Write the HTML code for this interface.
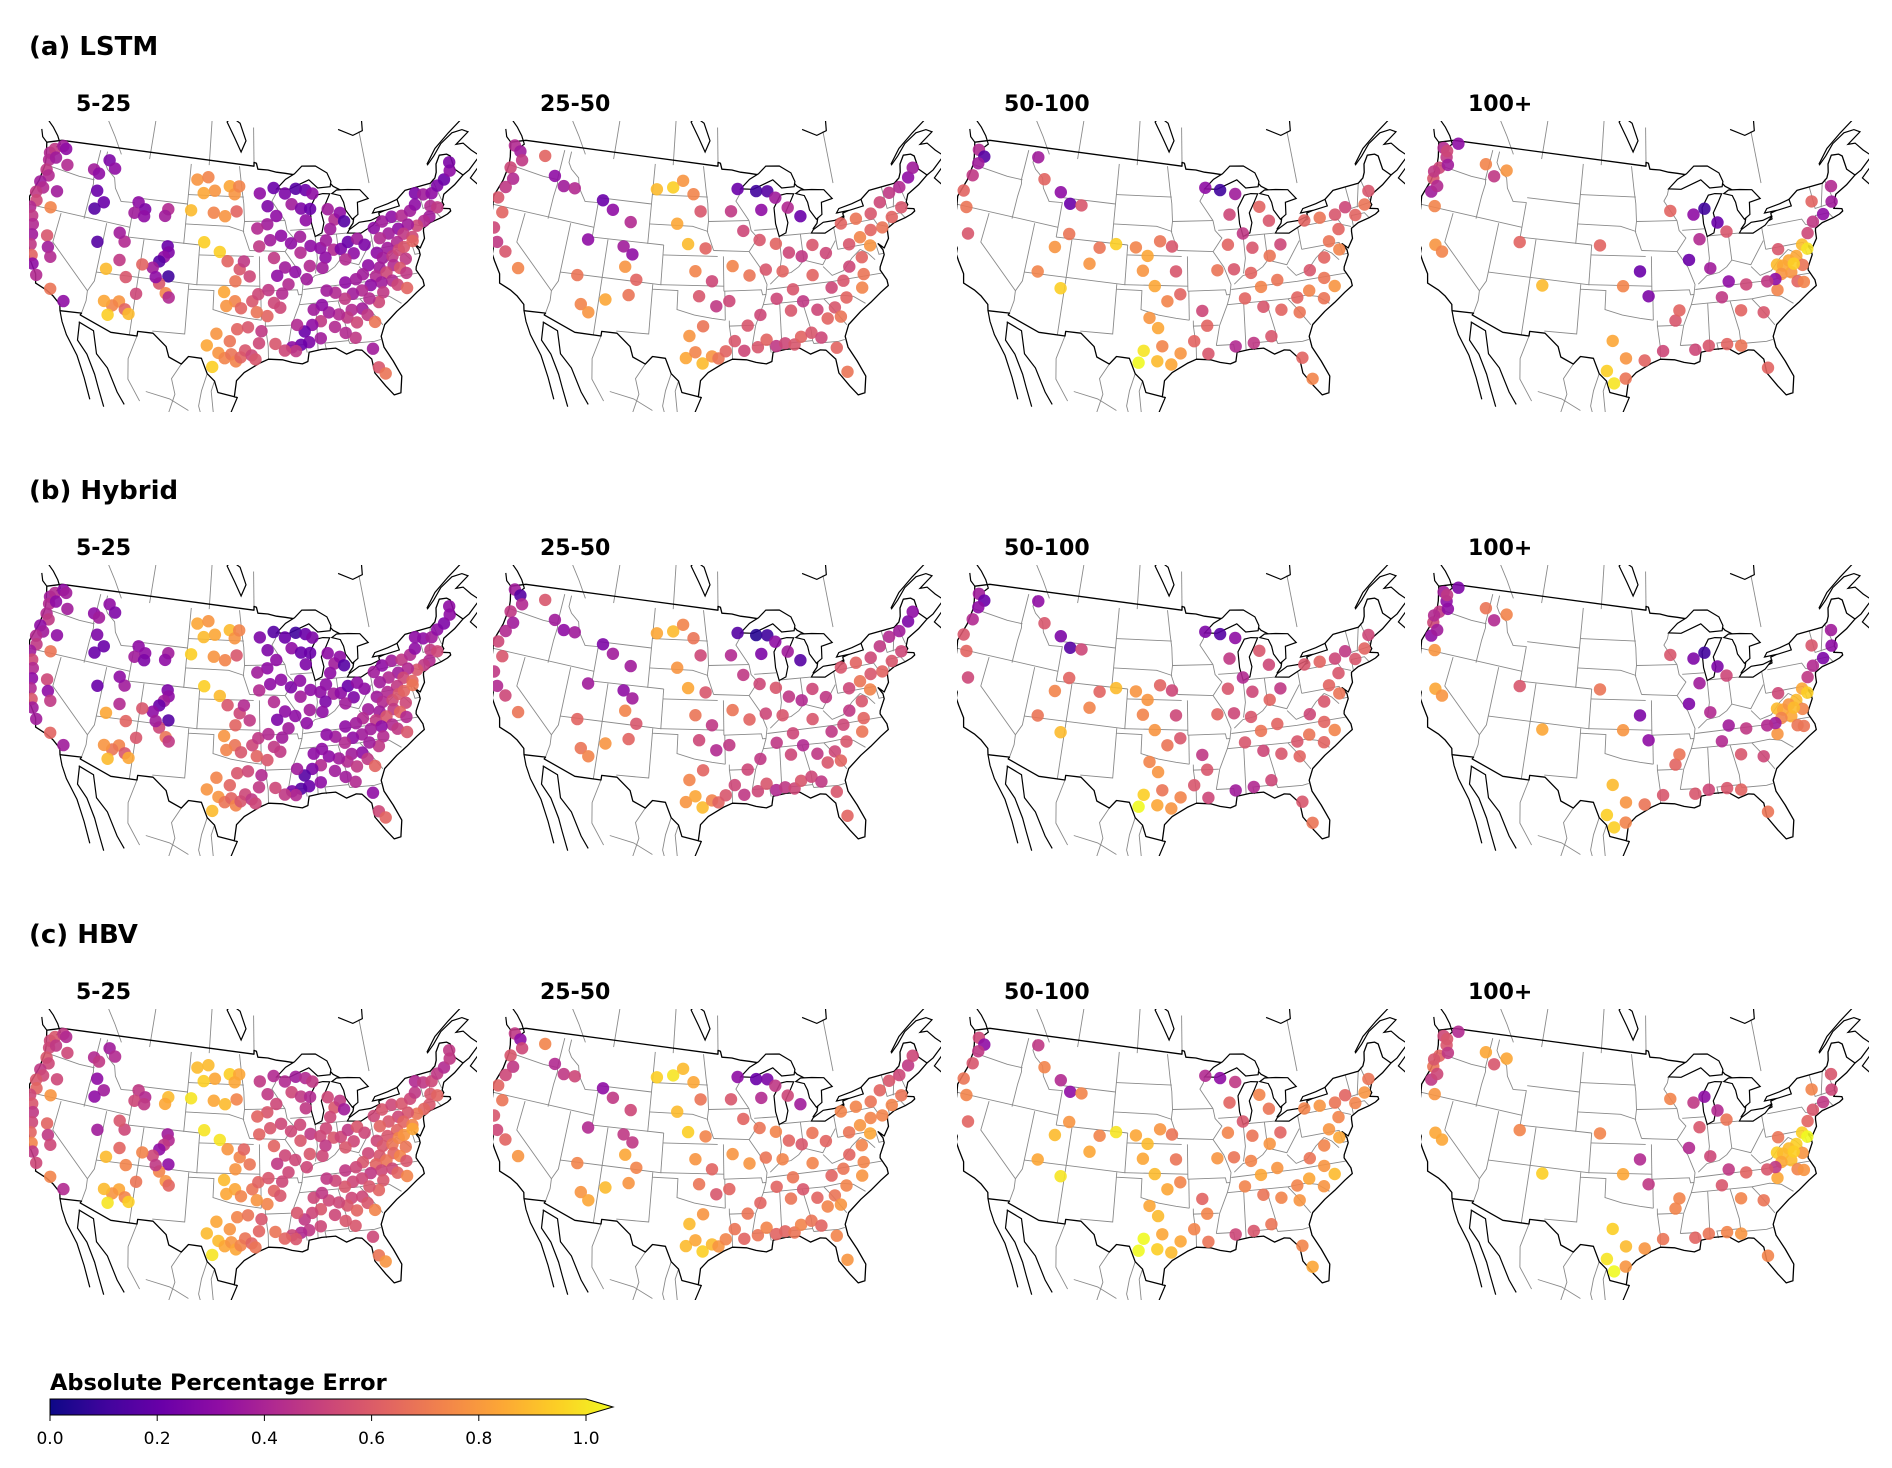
<!DOCTYPE html>
<html><head><meta charset="utf-8">
<style>
html,body{margin:0;padding:0;background:#fff;}
svg text{font-family:"DejaVu Sans","Liberation Sans",sans-serif;}
</style></head>
<body>
<svg id="fig" xmlns="http://www.w3.org/2000/svg" width="1892" height="1463" viewBox="0 0 1892 1463">
<defs>
<linearGradient id="plasma" x1="0" x2="1" y1="0" y2="0">
<stop offset="0" stop-color="#0d0887"/><stop offset="0.1" stop-color="#41049d"/><stop offset="0.2" stop-color="#6a00a8"/><stop offset="0.3" stop-color="#8f0da4"/><stop offset="0.4" stop-color="#b12a90"/><stop offset="0.5" stop-color="#cc4778"/><stop offset="0.6" stop-color="#e16462"/><stop offset="0.7" stop-color="#f2844b"/><stop offset="0.8" stop-color="#fca636"/><stop offset="0.9" stop-color="#fcce25"/><stop offset="1" stop-color="#f0f921"/>
</linearGradient>
<clipPath id="mapclip"><rect x="0" y="0" width="448" height="291"/></clipPath>
<symbol id="basemap" viewBox="0 0 448 291" width="448" height="291"><g id="basemap-g"></g></symbol>
</defs>
<g id="panels"></g>
<g>
<text x="50" y="1390" font-size="22.5" font-weight="bold">Absolute Percentage Error</text>
<path d="M50,1399 L586,1399 L613,1407 L586,1415 L50,1415 Z" fill="url(#plasma)" stroke="#000" stroke-width="1"/>
<g id="cbticks"></g>
</g>
</svg>
<script>
// ---------- data ----------
const rowTitles = ["(a) LSTM","(b) Hybrid","(c) HBV"];
const colTitles = ["5-25","25-50","50-100","100+"];
const cbTicks = [0.0,0.2,0.4,0.6,0.8,1.0];

const sites1 = [
[-123.8,47.5],[-123.3,48.0],[-122.3,48.5],[-121.8,48.3],[-123.6,46.8],[-122.8,47.2],[-123.5,45.8],[-123.0,45.3],[-123.8,44.5],[-123.2,44.0],[-123.9,43.4],[-123.5,42.6],[-124.0,41.8],[-123.4,41.0],[-123.0,40.2],[-122.7,39.2],[-122.5,38.2],[-122.0,37.2],[-121.6,36.4],[-120.8,35.4],[-118.8,34.4],[-117.0,33.5],
[-121.0,46.8],[-117.3,47.0],[-116.5,46.7],[-115.5,48.2],[-114.5,47.5],[-116.2,45.0],[-115.0,44.0],[-121.3,44.0],[-121.5,42.3],[-120.9,39.5],[-120.4,38.4],[-119.8,37.5],[-116.0,43.2],
[-110.5,44.6],[-109.5,44.0],[-110.8,43.5],[-109.5,43.3],[-106.5,44.3],[-106.8,43.6],[-106.0,40.6],[-105.8,40.0],[-106.3,39.5],[-106.8,39.0],[-107.5,38.3],[-105.5,37.6],[-106.5,36.8],[-105.6,35.9],[-105.2,35.5],[-109.0,35.5],[-110.8,34.5],[-111.5,34.0],[-110.0,33.8],[-109.5,33.4],[-111.8,33.0],[-112.5,34.3],[-111.6,38.6],[-111.4,40.5],[-112.2,41.3],[-113.0,37.5],[-110.5,37.0],[-108.8,38.5],[-107.0,37.4],[-114.7,40.0],
[-103.0,47.5],[-101.5,47.8],[-100.5,46.5],[-98.5,47.0],[-97.8,46.2],[-97.2,47.0],[-102.0,46.2],[-103.5,44.4],[-100.5,44.3],[-99.0,44.0],[-97.5,44.5],[-101.5,41.3],[-99.5,40.4],[-98.5,39.5],[-97.0,38.7],[-96.5,39.5],[-95.8,38.0],[-97.5,37.5],[-98.8,36.4],[-97.5,35.5],[-96.8,34.8],[-98.5,35.0],[-95.5,35.5],[-94.8,36.2],[-93.6,36.6],[-93.0,35.3],[-92.3,34.8],[-93.8,34.0],[-92.0,36.2],[-95.0,34.4],
[-99.2,30.3],[-98.5,29.8],[-97.8,30.2],[-97.3,29.5],[-96.8,29.9],[-96.3,30.6],[-95.6,30.1],[-95.2,29.7],[-98.0,31.5],[-97.2,32.7],[-96.0,32.9],[-94.8,31.3],[-94.5,32.5],[-99.8,28.9],[-100.5,31.0],[-99.5,32.2],
[-94.4,46.3],[-92.5,46.8],[-91.0,46.2],[-89.5,46.6],[-88.2,46.4],[-87.3,46.0],[-90.2,45.1],[-89.0,44.6],[-88.5,43.4],[-87.8,44.5],[-85.5,44.3],[-84.8,43.2],[-84.0,43.8],[-83.6,42.9],[-85.5,42.3],[-93.4,45.0],[-92.3,44.0],[-93.5,43.2],[-94.8,42.8],[-91.8,42.0],[-93.2,41.6],[-94.6,41.0],[-90.6,41.2],[-89.4,41.8],[-88.2,40.8],[-89.5,40.2],[-87.0,40.5],[-86.2,41.2],[-85.4,40.2],[-86.5,39.5],[-84.5,40.2],[-83.5,40.8],[-82.3,41.0],[-83.0,39.6],[-81.5,40.3],[-84.1,39.1],[-87.0,38.5],[-88.5,38.8],[-90.3,38.3],[-91.5,38.8],[-92.5,38.0],[-91.2,37.1],[-89.0,37.5],[-92.8,39.8],
[-80.0,41.8],[-78.8,42.3],[-77.5,42.6],[-76.2,42.5],[-75.0,42.8],[-74.2,43.3],[-73.8,44.4],[-72.8,44.1],[-71.7,44.0],[-70.7,44.6],
[-69.6,45.0],[-68.5,45.7],[-68.2,46.5],[-72.3,42.8],[-71.5,42.5],[-72.8,41.8],[-73.6,41.5],[-74.6,41.2],[-75.7,41.5],[-77.0,41.3],
[-78.3,41.0],[-79.5,40.7],[-76.5,40.7],[-75.5,40.2],[-77.5,40.0],[-78.8,39.6],[-80.2,39.3],[-79.6,38.7],[-78.4,38.7],[-77.5,39.2],
[-76.8,39.4],[-75.6,39.8],[-76.9,38.2],[-78.5,37.8],[-80.2,37.8],[-81.5,38.2],[-82.3,37.4],[-80.8,37.0],[-79.5,37.2],[-77.8,37.4],
[-77.2,36.8],[-79.0,36.3],[-80.3,36.3],[-81.6,36.2],[-82.7,35.8],[-83.8,35.6],[-84.8,35.2],[-85.8,35.9],[-86.8,36.2],[-84.5,36.8],
[-83.2,37.0],[-78.5,35.8],[-77.5,35.3],[-80.3,35.3],[-81.0,34.4],[-82.0,34.9],[-83.0,34.0],[-84.2,34.0],[-84.8,33.3],[-83.8,32.7],
[-82.5,33.3],[-81.8,32.5],[-85.7,33.7],[-86.8,34.0],[-87.8,33.2],[-88.8,32.9],[-89.7,32.3],[-90.5,33.0],[-88.5,34.4],[-87.5,34.8],
[-86.3,32.5],[-88.0,31.5],[-89.3,31.2],[-90.2,31.0],[-91.2,30.8],[-90.8,30.4],[-92.0,30.5],[-93.0,31.2],[-85.2,31.8],[-84.2,31.2],
[-82.5,29.9],[-82.2,28.0],[-81.6,27.3]
];
const lstm1 = [
.4,.45,.35,.3,.4,.35,.45,.4,.35,.4,.45,.5,.4,.45,.4,.35,.45,.6,.3,.4,.65,.3,
.4,.35,.3,.25,.3,.2,.2,.35,.7,.55,.35,.4,.15,
.3,.25,.35,.3,.4,.35,.2,.25,.3,.15,.35,.1,.55,.7,.4,.5,.75,.7,.6,.85,.9,.8,.45,.4,.35,.85,.55,.6,.3,.15,
.75,.7,.75,.8,.75,.7,.8,.85,.7,.75,.6,.9,.9,.6,.55,.45,.5,.65,.8,.7,.6,.75,.55,.5,.45,.5,.5,.6,.4,.65,
.75,.7,.65,.7,.6,.55,.5,.55,.65,.6,.55,.5,.45,.9,.8,.75,
.3,.2,.25,.15,.2,.3,.35,.25,.3,.2,.35,.4,.3,.15,.35,.25,.3,.35,.4,.3,.35,.45,.3,.35,.3,.4,.3,.35,.4,.3,.25,.2,.35,.3,.25,.4,.35,.4,.3,.35,.3,.4,.35,.45,
.3,.35,.3,.4,.35,.3,.25,.35,.3,.25,.2,.3,.25,.4,.45,.35,.4,.5,.35,.3,.35,.4,.45,.5,.4,.35,.3,.35,.45,.5,.55,.6,.45,.4,.35,.3,.35,.4,.5,.55,
.45,.4,.35,.3,.4,.35,.45,.4,.35,.3,.35,.5,.6,.45,.5,.4,.35,.4,.45,.5,.45,.65,.4,.35,.45,.3,.2,.4,.35,.3,.4,.35,.25,.2,.3,.45,.5,.55,.4,.45,.35,.55,.65
];
const hybrid1 = [
.35,.4,.3,.35,.4,.3,.4,.45,.3,.35,.4,.45,.35,.5,.4,.3,.4,.55,.35,.35,.6,.35,
.35,.3,.35,.3,.25,.25,.2,.3,.65,.5,.3,.45,.2,
.3,.3,.35,.25,.35,.3,.25,.3,.35,.2,.3,.15,.5,.65,.45,.55,.7,.65,.55,.8,.85,.75,.4,.35,.3,.8,.6,.55,.35,.2,
.8,.75,.8,.85,.75,.7,.85,.9,.75,.7,.55,.9,.85,.55,.5,.4,.45,.6,.75,.65,.55,.7,.5,.45,.4,.45,.45,.55,.35,.6,
.75,.65,.6,.7,.55,.5,.45,.5,.6,.55,.5,.45,.4,.85,.75,.7,
.25,.15,.2,.1,.2,.25,.3,.2,.25,.2,.3,.35,.3,.15,.3,.25,.3,.3,.35,.3,.3,.4,.25,.3,.3,.35,.3,.3,.35,.25,.3,.2,.3,.25,.3,.35,.3,.35,.3,.3,.25,.35,.3,.4,
.35,.3,.35,.45,.4,.3,.3,.3,.35,.3,.25,.3,.3,.45,.5,.4,.45,.55,.4,.35,.4,.35,.5,.6,.45,.4,.35,.4,.5,.55,.6,.65,.5,.45,.35,.35,.4,.45,.55,.6,
.4,.4,.3,.35,.35,.3,.4,.35,.3,.3,.35,.45,.55,.4,.45,.35,.3,.35,.4,.45,.45,.6,.35,.3,.4,.25,.15,.35,.3,.3,.35,.3,.2,.15,.25,.4,.45,.5,.35,.4,.3,.5,.6
];
const hbv1 = [
.5,.55,.45,.4,.5,.45,.55,.5,.45,.5,.55,.6,.5,.55,.45,.5,.6,.7,.45,.5,.7,.4,
.5,.4,.45,.35,.4,.3,.35,.5,.75,.6,.45,.5,.3,
.45,.4,.5,.45,.85,.8,.35,.4,.45,.3,.5,.3,.7,.75,.6,.65,.8,.75,.7,.9,.95,.85,.6,.5,.55,.85,.7,.7,.45,.35,
.85,.85,.8,.9,.8,.8,.9,.95,.8,.85,.7,.95,.95,.75,.7,.6,.65,.75,.85,.8,.7,.8,.65,.6,.55,.6,.55,.7,.5,.75,
.85,.8,.75,.8,.7,.65,.6,.65,.75,.7,.65,.6,.55,.95,.85,.8,
.45,.4,.4,.35,.4,.45,.5,.45,.45,.4,.5,.55,.45,.35,.5,.45,.5,.55,.6,.5,.55,.6,.5,.5,.45,.55,.5,.5,.55,.45,.5,.45,.55,.5,.5,.55,.5,.55,.5,.5,.45,.5,.5,.6,
.5,.55,.5,.55,.5,.45,.4,.45,.5,.45,.4,.45,.45,.55,.6,.55,.6,.65,.55,.5,.55,.6,.6,.7,.6,.55,.5,.55,.65,.7,.75,.8,.65,.6,.55,.5,.55,.6,.65,.7,
.55,.5,.5,.45,.5,.5,.55,.5,.45,.45,.5,.6,.7,.55,.6,.55,.5,.5,.55,.6,.55,.7,.5,.5,.55,.5,.45,.55,.5,.45,.5,.5,.45,.4,.5,.55,.6,.65,.55,.55,.5,.65,.75
];

const sites2 = [
[-124.0,48.2],[-123.0,47.8],[-122.4,47.0],[-123.6,46.0],[-122.8,45.0],[-123.4,44.0],[-123.9,42.8],[-122.8,41.5],[-123.2,39.8],[-122.3,38.5],[-119.5,48.0],[-117.5,46.3],[-116.0,45.5],[-114.5,45.5],[-121.0,37.8],[-119.0,36.5],
[-110.5,44.8],[-109.0,44.0],[-106.5,43.0],[-107.0,40.5],[-105.8,39.8],[-106.5,38.5],[-105.0,37.3],[-111.5,40.7],[-112.0,37.0],[-111.0,34.2],[-110.0,33.5],[-108.3,35.0],[-105.7,35.7],[-103.5,46.5],[-101.3,46.8],[-100.0,47.5],[-98.5,46.2],[-97.5,44.5],[-100.5,43.2],[-99.0,41.2],[-96.8,40.8],[-98.0,38.5],[-96.0,37.5],[-97.5,36.0],[-95.5,35.0],[-94.0,35.5],
[-98.8,29.8],[-97.8,30.4],[-97.0,29.3],[-96.0,30.0],[-95.3,29.8],[-94.5,30.5],[-98.5,32.0],[-97.0,33.0],[-93.5,31.5],[-92.5,30.5],[-91.0,30.8],[-90.0,31.5],[-89.0,30.8],[-88.0,31.0],[-87.0,30.8],[-86.2,31.5],[-85.0,31.8],[-84.0,31.2],[-82.5,30.0],[-81.8,27.5],[-92.0,33.0],[-90.5,34.0],
[-92.5,46.7],[-90.0,46.4],[-88.5,46.3],[-87.5,45.6],[-86.0,44.5],[-84.5,43.5],[-89.5,44.5],[-93.5,44.5],[-92.0,42.5],[-90.0,41.5],[-88.0,41.0],[-86.5,40.0],[-85.0,39.5],[-83.5,40.5],[-82.0,39.5],[-87.5,38.2],[-89.5,38.5],[-91.5,38.0],[-93.5,39.0],[-84.0,37.5],[-86.5,36.3],[-88.5,35.5],[-85.5,35.0],[-87.0,34.2],
[-79.5,42.2],[-77.5,42.4],[-75.5,42.6],[-74.0,43.5],[-72.5,44.2],[-71.0,44.5],[-69.5,45.2],[-68.5,46.0],[-71.5,42.5],[-73.0,41.8],[-74.5,41.0],[-76.0,41.0],[-77.5,40.5],[-79.0,40.0],[-76.5,39.5],[-77.8,38.5],[-79.5,37.8],[-78.0,36.8],[-80.5,36.5],[-82.0,36.0],[-78.5,35.5],[-80.5,34.8],[-82.0,34.0],[-84.0,34.0],[-83.0,33.0],[-81.5,33.0]
];
const lstm2 = [
.4,.35,.45,.5,.4,.45,.55,.6,.5,.45,.6,.3,.35,.4,.55,.7,
.2,.3,.4,.35,.3,.75,.6,.3,.65,.7,.75,.8,.65,.85,.9,.75,.7,.55,.8,.85,.6,.7,.5,.55,.45,.5,
.8,.7,.85,.75,.65,.6,.75,.65,.55,.5,.55,.6,.45,.5,.55,.6,.55,.5,.6,.65,.55,.5,
.2,.1,.15,.35,.4,.2,.3,.45,.5,.55,.6,.5,.45,.55,.5,.6,.55,.65,.7,.6,.55,.5,.45,.55,
.6,.65,.55,.5,.45,.4,.3,.35,.55,.6,.65,.6,.7,.55,.75,.6,.5,.65,.55,.5,.7,.6,.55,.5,.6,.65
];
const hybrid2 = [
.35,.15,.4,.45,.35,.4,.5,.55,.45,.4,.55,.35,.3,.35,.5,.65,
.25,.35,.35,.3,.35,.7,.55,.35,.6,.65,.7,.75,.6,.8,.85,.7,.65,.5,.75,.8,.55,.65,.45,.5,.4,.45,
.75,.8,.85,.7,.6,.55,.7,.6,.5,.45,.5,.55,.4,.45,.5,.55,.5,.45,.55,.6,.5,.45,
.15,.05,.1,.3,.35,.15,.25,.4,.45,.5,.55,.45,.4,.5,.45,.55,.5,.6,.65,.55,.5,.45,.4,.5,
.55,.6,.5,.45,.4,.35,.25,.3,.5,.55,.6,.55,.65,.5,.7,.55,.45,.6,.5,.45,.65,.55,.5,.45,.55,.6
];
const hbv2 = [
.45,.3,.5,.55,.45,.5,.6,.65,.55,.5,.7,.4,.45,.5,.6,.75,
.3,.45,.5,.45,.45,.8,.7,.4,.7,.75,.8,.85,.75,.9,.95,.85,.8,.65,.85,.9,.7,.75,.6,.65,.55,.6,
.85,.8,.9,.85,.75,.7,.85,.75,.65,.6,.65,.7,.6,.6,.65,.7,.65,.6,.7,.75,.65,.6,
.3,.2,.25,.45,.5,.35,.4,.55,.6,.65,.7,.6,.55,.65,.6,.7,.65,.75,.75,.7,.65,.6,.55,.65,
.7,.7,.65,.6,.55,.5,.45,.5,.65,.7,.7,.7,.75,.65,.8,.7,.6,.7,.65,.6,.75,.7,.65,.6,.7,.75
];

const sites3 = [
[-123.8,47.8],[-122.8,47.3],[-123.3,46.5],[-123.5,45.2],[-124.0,43.5],[-123.0,42.0],[-121.8,39.5],[-115.5,48.5],[-114.0,46.5],[-111.5,45.5],[-110.0,44.5],[-108.5,44.5],[-109.5,41.5],[-111.0,40.0],[-112.5,37.3],[-109.5,36.0],[-105.5,40.5],[-106.5,38.8],
[-103.5,41.0],[-101.0,40.8],[-99.5,40.0],[-98.0,41.5],[-96.5,41.0],[-100.0,38.5],[-98.5,37.0],[-96.0,38.5],[-97.0,35.5],[-95.5,36.2],[-99.0,33.8],[-98.0,32.8],[-97.5,31.0],[-99.5,30.5],[-100.0,29.3],[-98.0,29.5],[-96.5,29.2],[-95.5,30.3],[-94.0,31.5],[-92.5,30.2],[-93.0,34.5],[-92.5,33.0],
[-92.0,46.8],[-90.0,46.5],[-88.0,46.0],[-85.0,44.5],[-84.0,43.0],[-89.0,44.0],[-87.5,42.0],[-89.5,41.0],[-86.5,40.5],[-84.5,39.5],[-83.0,40.5],[-87.0,38.0],[-89.0,38.5],[-91.0,38.5],[-86.0,36.5],[-84.0,37.0],[-88.0,35.5],[-86.0,34.5],[-84.0,34.0],[-82.0,33.5],[-85.5,31.5],[-87.5,31.0],[-89.5,30.8],[-82.5,29.0],[-81.8,26.8],[-79.5,42.5],[-77.5,42.5],[-75.5,42.5],[-74.0,43.0],[-73.0,42.0],[-71.5,42.8],[-70.5,44.0],[-75.5,41.0],[-77.0,40.0],[-76.0,39.0],[-78.0,38.5],[-80.0,37.5],[-78.5,36.5],[-80.5,35.5],[-82.0,35.0],[-77.5,35.5],[-79.0,34.5]
];
const lstm3 = [
.4,.15,.35,.45,.6,.65,.55,.35,.6,.3,.2,.55,.65,.75,.7,.9,.65,.75,
.9,.7,.8,.65,.55,.75,.8,.55,.7,.6,.75,.8,.7,.95,1,.85,.8,.75,.6,.55,.5,.6,
.3,.1,.35,.6,.55,.5,.45,.6,.55,.65,.5,.6,.55,.65,.7,.65,.6,.55,.6,.65,.55,.45,.4,.6,.7,.6,.65,.55,.5,.6,.65,.55,.6,.65,.7,.6,.55,.65,.7,.6,.75,.65
];
const hybrid3 = [
.35,.2,.3,.4,.55,.6,.5,.3,.55,.25,.15,.5,.6,.7,.65,.85,.6,.7,
.85,.75,.75,.6,.5,.7,.75,.5,.65,.55,.7,.75,.65,.9,1,.8,.75,.7,.55,.5,.45,.55,
.25,.15,.3,.55,.5,.45,.4,.55,.5,.6,.45,.55,.5,.6,.65,.6,.55,.5,.55,.6,.5,.4,.35,.55,.65,.55,.6,.5,.45,.55,.6,.5,.55,.6,.65,.55,.5,.6,.65,.55,.7,.6
];
const hbv3 = [
.5,.3,.45,.55,.65,.7,.6,.45,.7,.4,.3,.7,.75,.85,.8,.95,.7,.8,
.95,.8,.85,.75,.65,.8,.85,.65,.8,.7,.8,.85,.8,1,1,.9,.85,.8,.7,.65,.6,.7,
.4,.3,.45,.7,.65,.6,.55,.7,.65,.75,.6,.7,.65,.75,.8,.75,.7,.65,.7,.75,.65,.55,.5,.7,.8,.7,.75,.65,.6,.7,.75,.65,.7,.75,.8,.7,.65,.75,.8,.7,.85,.75
];

const sites4 = [
[-123.8,48.0],[-123.0,47.2],[-123.5,46.0],[-123.8,44.8],[-123.5,43.5],[-122.5,42.2],[-121.0,38.5],[-117.5,47.5],[-116.0,46.5],[-120.0,38.0],[-111.0,40.5],[-107.5,36.5],
[-101.0,41.0],[-98.0,37.0],[-96.0,38.5],[-95.0,36.0],[-99.0,31.5],[-97.5,29.8],[-99.5,28.5],[-95.5,29.6],[-93.5,30.5],[-92.0,33.5],[-91.5,34.5],[-90.0,30.5],[-88.5,30.8],[-86.5,30.8],[-85.0,30.5],[-82.5,28.0],
[-92.0,44.5],[-89.0,44.0],[-87.5,44.5],[-86.0,43.0],[-85.0,42.0],[-88.5,41.5],[-90.0,39.5],[-87.5,38.5],[-85.5,37.0],[-83.5,36.5],[-86.5,35.5],[-84.5,34.0],[-82.0,33.5],[-80.0,35.5],[-78.0,37.0],[-77.0,38.5],[-76.0,39.5],[-76.5,37.5],[-77.5,36.0],[-79.0,39.5],[-75.0,40.5],[-74.0,41.5],[-72.5,42.0],[-71.0,43.0],[-70.5,44.5],[-73.5,43.5],
[-122.0,48.8],[-123.2,47.8],[-122.5,46.5],[-124.0,45.5],[-123.0,44.2],[-79.5,38.0],[-78.8,37.8],[-79.2,37.0],[-78.0,38.2],[-77.5,37.8],[-80.0,36.6],[-81.0,36.5],[-76.8,35.8],[-75.5,39.0],[-114.5,47.3],[-98.7,27.3],[-97.5,27.8]
];
const lstm4 = [
.4,.45,.5,.55,.35,.7,.75,.7,.45,.7,.6,.85,
.6,.7,.2,.25,.8,.75,.9,.6,.5,.55,.6,.5,.55,.6,.65,.6,
.6,.3,.1,.2,.55,.4,.2,.35,.3,.5,.45,.6,.55,.7,.75,.8,.85,.65,.6,.55,.5,.45,.3,.35,.4,.6,
.3,.5,.35,.45,.4,.85,.8,.75,.8,.9,.3,.45,.7,.95,.75,.95,.65
];
const hybrid4 = [
.35,.3,.45,.5,.3,.75,.8,.65,.4,.75,.55,.8,
.65,.75,.25,.3,.85,.75,.9,.65,.55,.6,.65,.55,.5,.55,.6,.65,
.55,.25,.1,.25,.5,.35,.25,.4,.35,.45,.4,.55,.5,.75,.8,.85,.8,.7,.65,.5,.45,.4,.25,.3,.35,.55,
.25,.45,.3,.4,.35,.85,.8,.7,.75,.85,.35,.4,.65,.9,.7,.9,.7
];
const hbv4 = [
.5,.55,.6,.65,.45,.75,.8,.8,.55,.8,.7,.9,
.7,.8,.4,.45,.9,.85,.95,.75,.65,.7,.7,.6,.65,.7,.75,.7,
.7,.45,.3,.4,.65,.55,.4,.5,.45,.6,.55,.7,.65,.8,.85,.9,.9,.75,.7,.65,.6,.55,.45,.5,.55,.7,
.4,.55,.45,.55,.5,.9,.85,.8,.85,.9,.45,.55,.75,1,.8,1,.75
];

const colSites = [sites1, sites2, sites3, sites4];
const rowValues = [[lstm1,lstm2,lstm3,lstm4],[hybrid1,hybrid2,hybrid3,hybrid4],[hbv1,hbv2,hbv3,hbv4]];

// ---------- basemap geometry (lon/lat) ----------
const usOutline = [[-124.7,48.4],[-122.75,49.0],[-95.15,49.0],[-95.15,49.38],[-94.8,49.3],[-94.6,48.7],[-93.2,48.6],[-92.0,48.35],[-90.8,48.2],[-89.5,48.0],[-88.4,48.3],[-84.8,46.9],[-84.4,46.5],[-83.6,46.1],[-82.4,45.3],[-82.1,43.6],[-82.5,42.6],[-83.1,42.1],[-82.7,41.7],[-79.0,42.6],[-79.0,43.2],[-76.8,43.6],[-76.3,44.2],[-75.0,44.9],[-71.5,45.0],[-70.7,45.4],[-70.3,45.9],[-70.0,46.7],[-69.2,47.45],[-68.2,47.35],[-67.8,47.07],[-67.8,45.7],[-67.0,44.9],[-68.5,44.2],[-70.2,43.6],[-70.7,42.9],[-70.6,42.6],[-71.0,42.3],[-70.0,42.05],[-70.0,41.8],[-70.5,41.6],[-71.4,41.4],[-72.9,41.2],[-73.9,40.8],[-74.0,40.5],[-74.1,39.8],[-74.9,38.95],[-75.5,39.5],[-75.1,38.8],[-75.1,38.3],[-75.9,37.2],[-76.0,36.9],[-75.5,35.8],[-75.5,35.2],[-76.5,34.7],[-77.9,33.9],[-79.2,33.2],[-80.8,32.1],[-81.4,31.0],[-81.3,29.9],[-80.6,28.4],[-80.0,26.8],[-80.4,25.2],[-81.1,25.1],[-81.8,26.1],[-82.7,27.5],[-82.8,28.9],[-83.7,29.9],[-84.3,30.0],[-85.4,29.7],[-86.5,30.4],[-88.0,30.4],[-89.4,30.2],[-89.6,29.3],[-90.2,29.1],[-91.3,29.3],[-92.3,29.6],[-93.8,29.7],[-94.8,29.3],[-96.4,28.4],[-97.2,27.6],[-97.4,26.0],[-97.1,25.95],[-99.1,26.4],[-99.5,27.5],[-100.3,28.2],[-101.0,29.7],[-102.4,29.8],[-103.1,29.0],[-104.5,29.6],[-104.9,30.6],[-106.5,31.8],[-108.2,31.8],[-108.2,31.33],[-111.1,31.33],[-114.8,32.5],[-114.7,32.7],[-117.1,32.5],[-117.3,33.1],[-118.3,33.8],[-119.2,34.2],[-120.6,34.6],[-120.9,35.5],[-121.9,36.6],[-122.4,37.2],[-122.5,37.8],[-123.7,38.9],[-124.4,40.4],[-124.1,41.5],[-124.5,42.8],[-124.0,44.6],[-123.9,46.2],[-124.1,47.0],[-124.7,48.4]];
const lakes = [
[[-92.1,46.7],[-90.4,46.6],[-88.3,47.2],[-87.6,47.4],[-86.5,46.5],[-84.8,46.5],[-84.6,47.0],[-85.0,47.9],[-86.5,48.7],[-88.4,48.8],[-89.5,48.1],[-90.8,47.6],[-92.1,46.7]],
[[-87.8,44.6],[-87.8,43.0],[-87.5,41.7],[-86.6,42.0],[-86.2,43.0],[-86.4,44.0],[-85.6,45.0],[-85.0,45.8],[-85.9,45.9],[-86.8,45.8],[-87.8,44.6]],
[[-84.7,45.8],[-83.6,45.5],[-83.3,44.8],[-83.2,44.0],[-82.5,43.0],[-81.7,43.4],[-81.5,44.6],[-80.0,44.8],[-80.9,45.8],[-82.5,46.0],[-84.0,46.1],[-84.7,45.8]],
[[-83.4,41.7],[-81.7,41.5],[-80.0,42.1],[-78.9,42.9],[-80.2,42.6],[-81.7,42.6],[-83.1,42.0],[-83.4,41.7]],
[[-79.8,43.3],[-78.0,43.35],[-76.2,43.5],[-76.3,44.2],[-77.6,43.95],[-79.4,43.7],[-79.8,43.3]],
[[-97.0,50.4],[-96.3,51.5],[-97.2,53.2],[-98.5,53.8],[-99.2,53.3],[-98.0,51.8],[-97.0,50.4]]
];
const coastLines = [
[[-117.1,32.5],[-116.6,31.5],[-115.8,30.3],[-114.2,28.5],[-113.0,26.5],[-112.0,24.5]],
[[-114.7,31.7],[-114.5,30.0],[-113.2,28.8],[-112.0,27.0],[-111.4,25.8],[-110.5,24.0]],
[[-114.8,31.8],[-113.0,31.2],[-112.2,29.0],[-110.8,27.8],[-109.4,25.6],[-108.5,24.5]],
[[-97.1,25.95],[-97.7,24.5],[-97.8,23.0]],
[[-67.0,44.9],[-66.0,45.2],[-64.8,45.8],[-64.0,46.2],[-64.8,47.0],[-65.5,47.9],[-66.5,48.0],[-64.3,48.8],[-65.0,49.2],[-66.5,49.2],[-68.5,48.5],[-70.0,47.5],[-71.2,46.8]],
[[-71.2,46.9],[-69.5,48.2],[-67.0,49.3],[-64.5,50.2],[-62,50.3]],
[[-64.3,45.4],[-66.2,44.4],[-65.6,43.6],[-64.0,44.5],[-61.0,45.2],[-60.0,46.0]],
[[-82.5,52.0],[-80.5,51.2],[-79.0,51.5],[-78.8,52.5]],
[[-123.2,48.2],[-122.8,48.6],[-123.5,49.3],[-124.5,50.0],[-125.5,50.5]],
[[-124.7,48.4],[-125.5,48.8],[-126,49.5]]
];
const grayLines = [
[[-124,46.25],[-119,46.0],[-116.9,46.0]],
[[-117.04,49],[-117.04,46.0],[-116.9,45.6],[-117.0,44.3],[-117.0,42.0]],
[[-124.2,42],[-111.05,42]],
[[-120,42],[-120,39],[-114.6,35.0]],
[[-114.05,42],[-114.05,36.1],[-114.6,35.0],[-114.5,34],[-114.7,32.7]],
[[-114.05,37],[-102.0,37]],
[[-109.05,41],[-109.05,31.33]],
[[-111.05,41],[-102.05,41]],
[[-102.05,41],[-102.05,37]],
[[-116.05,49],[-116.05,47.9],[-115.5,47.3],[-114.3,46.6],[-113.9,45.6],[-112.8,44.4],[-111.05,44.5],[-111.05,41]],
[[-111.05,45],[-104.05,45]],
[[-104.05,49],[-104.05,41]],
[[-104.05,45.94],[-96.56,45.94]],
[[-104.05,43],[-98.5,43],[-96.5,42.5]],
[[-102.05,40],[-95.3,40]],
[[-102.05,37],[-94.6,37]],
[[-103,37],[-103,36.5],[-100,36.5],[-100,34.6],[-98,34.1],[-96,33.8],[-94.5,33.6]],
[[-103,36.5],[-103,32],[-106.6,32]],
[[-97.2,49],[-96.8,46.6],[-96.56,45.3],[-96.45,43.5]],
[[-96.45,43.5],[-91.2,43.5]],
[[-92.1,46.7],[-92.3,46.1],[-92.8,45.5],[-91.2,43.5]],
[[-95.8,40.6],[-91.4,40.4]],
[[-96.45,43.5],[-96.6,42.5],[-95.8,40.6]],
[[-94.6,40],[-94.6,36.5]],
[[-94.6,36.5],[-90.2,36.5],[-90.1,36.0],[-89.7,36.0]],
[[-94.5,36.5],[-94.5,33.6]],
[[-94.05,33.55],[-94.05,33.0],[-91.2,33.0]],
[[-94.05,33.0],[-93.8,31.0],[-93.8,29.7]],
[[-91.6,31],[-89.7,31],[-89.6,30.2]],
[[-91.2,43.5],[-91.0,42.5],[-90.2,41.7],[-91.4,40.4],[-90.2,38.8],[-89.5,37.0],[-89.7,36.0],[-90.1,35.0],[-91.1,33.0],[-91.6,31.0]],
[[-90.6,42.5],[-87.8,42.5]],
[[-87.5,41.7],[-87.5,39.5],[-87.9,38.0]],
[[-89.1,37.0],[-88.0,37.8],[-86.5,38.0],[-85.5,38.5],[-84.8,39.1],[-82.6,38.4],[-80.6,40.6]],
[[-84.8,41.7],[-84.8,39.1]],
[[-87.5,41.75],[-83.5,41.7]],
[[-80.5,42.0],[-80.5,39.7]],
[[-79.76,42.0],[-75.3,42.0],[-75.0,41.4],[-73.9,41.0]],
[[-80.5,39.7],[-75.8,39.7]],
[[-82.6,38.2],[-81.7,37.2],[-80.3,37.5],[-79.0,38.6],[-77.8,39.3]],
[[-89.5,36.5],[-81.7,36.6],[-75.9,36.55]],
[[-90.1,35],[-83.1,35.0]],
[[-83.1,35.0],[-81,35.1],[-79.7,34.8],[-78.5,33.9]],
[[-88.2,35],[-88.4,30.4]],
[[-85.6,35],[-85.0,32.0],[-85.0,31.0],[-87.6,31.0],[-87.5,30.3]],
[[-85.0,31.0],[-84.9,30.7],[-82.2,30.6],[-81.5,30.7]],
[[-83.1,35],[-82.3,34.0],[-81.0,32.1]],
[[-73.3,45.0],[-73.3,42.7]],
[[-73.5,42.1],[-73.6,41.0]],
[[-73.5,42.05],[-71.8,42.0],[-71.4,41.4]],
[[-71.5,45.0],[-72.5,42.7]],
[[-73.3,42.74],[-70.8,42.87]],
[[-71.1,45.3],[-70.7,43.1]],
[[-75.8,39.7],[-75.7,38.45],[-75.1,38.45]],
[[-77.8,39.3],[-77.0,38.8],[-76.3,38.0]],
[[-114.06,49],[-115.5,50.6],[-117,52]],
[[-110,49],[-110,54]],
[[-101.5,49],[-101.5,54]],
[[-95.15,49.4],[-95.15,52.8]],
[[-79.5,46.3],[-79.5,51.5]],
[[-108.2,31.33],[-108.8,29],[-108.5,27],[-107,25]],
[[-103.1,29.0],[-104,27.5],[-103.5,26],[-104,24]],
[[-100.3,28.2],[-100.8,26.5],[-101,25],[-100.5,23.5]],
[[-99.5,27.5],[-99.8,26.5],[-99.5,24.5],[-98.5,23]],
[[-106.5,26],[-104,25.5],[-102,24.5]]
];

// ---------- projection ----------
const N = 0.6304, Fc = 1.9553;
function proj(lon, lat){
  const rho = Fc / Math.pow(Math.tan(Math.PI/4 + lat*Math.PI/360), N);
  const th = N*(lon+96)*Math.PI/180;
  return [219 + 610*rho*Math.sin(th), -558.4 + 574*rho*Math.cos(th)];
}
function pathOf(pts, close){
  return pts.map((p,i)=>{const q=proj(p[0],p[1]);return (i?'L':'M')+q[0].toFixed(1)+','+q[1].toFixed(1);}).join('')+(close?'Z':'');
}
const plasmaStops = ["#0d0887","#41049d","#6a00a8","#8f0da4","#b12a90","#cc4778","#e16462","#f2844b","#fca636","#fcce25","#f0f921"];
function hex2rgb(h){return [1,3,5].map(i=>parseInt(h.substr(i,2),16));}
function plasma(v){
  v = Math.max(0, Math.min(1, v));
  const f = v*10, i = Math.min(9, Math.floor(f)), t = f - i;
  const a = hex2rgb(plasmaStops[i]), b = hex2rgb(plasmaStops[i+1]);
  return 'rgb('+a.map((x,k)=>Math.round(x+(b[k]-x)*t)).join(',')+')';
}

const NS = 'http://www.w3.org/2000/svg';
function mk(tag, attrs, parent){
  const e = document.createElementNS(NS, tag);
  for (const k in attrs) e.setAttribute(k, attrs[k]);
  if (parent) parent.appendChild(e);
  return e;
}

// basemap
const bg = document.getElementById('basemap-g');
grayLines.forEach(l=>{
  const p = mk('path', {d:pathOf(l,false), fill:'none', stroke:'#8a8a8a', 'stroke-width':'0.9'}, bg);
  
  
});
const us = mk('path', {d:pathOf(usOutline,true), fill:'none', stroke:'#000', 'stroke-width':'1.3', 'stroke-linejoin':'round'}, bg);


coastLines.forEach(l=>{
  const p = mk('path', {d:pathOf(l,false), fill:'none', stroke:'#000', 'stroke-width':'1.2'}, bg);
  
  
});
lakes.forEach(l=>{
  const p = mk('path', {d:pathOf(l,true), fill:'#fff', stroke:'#000', 'stroke-width':'1.2'}, bg);
  
  
});

// panels
const panels = document.getElementById('panels');
for (let r=0; r<3; r++){
  const rt = mk('text', {x:29, y:55+r*444, 'font-size':'26', 'font-weight':'bold'}, panels);
  rt.textContent = rowTitles[r];
  
  
  for (let c=0; c<4; c++){
    const ox = 29 + c*464, oy = 121 + r*444;
    const ct = mk('text', {x:76+c*464, y:111+r*444, 'font-size':'22', 'font-weight':'bold'}, panels);
    ct.textContent = colTitles[c];
    
    
    const g = mk('g', {transform:'translate('+ox+','+oy+')'}, panels);
    
    
    const u = mk('use', {href:'#basemap', x:0, y:0}, g);
    
    
    const dg = mk('g', {'clip-path':'url(#mapclip)'}, g);
    const sites = colSites[c], vals = rowValues[r][c];
    const n = Math.min(sites.length, vals.length);
    for (let i=0; i<n; i++){
      const q = proj(sites[i][0], sites[i][1]);
      const dot = mk('circle', {cx:q[0].toFixed(1), cy:q[1].toFixed(1), r:'6.2', fill:plasma(vals[i]), 'fill-opacity':'0.9'}, dg);
      
      
    }
  }
}

// colorbar ticks
const cbt = document.getElementById('cbticks');
cbTicks.forEach(t=>{
  const x = 50 + t*536;
  const l = mk('line', {x1:x, x2:x, y1:1415, y2:1421, stroke:'#000', 'stroke-width':'1'}, cbt);
  
  
  const tx = mk('text', {x:x, y:1444, 'font-size':'17', 'text-anchor':'middle'}, cbt);
  tx.textContent = t.toFixed(1);
  
  
});
</script>
</body></html>
